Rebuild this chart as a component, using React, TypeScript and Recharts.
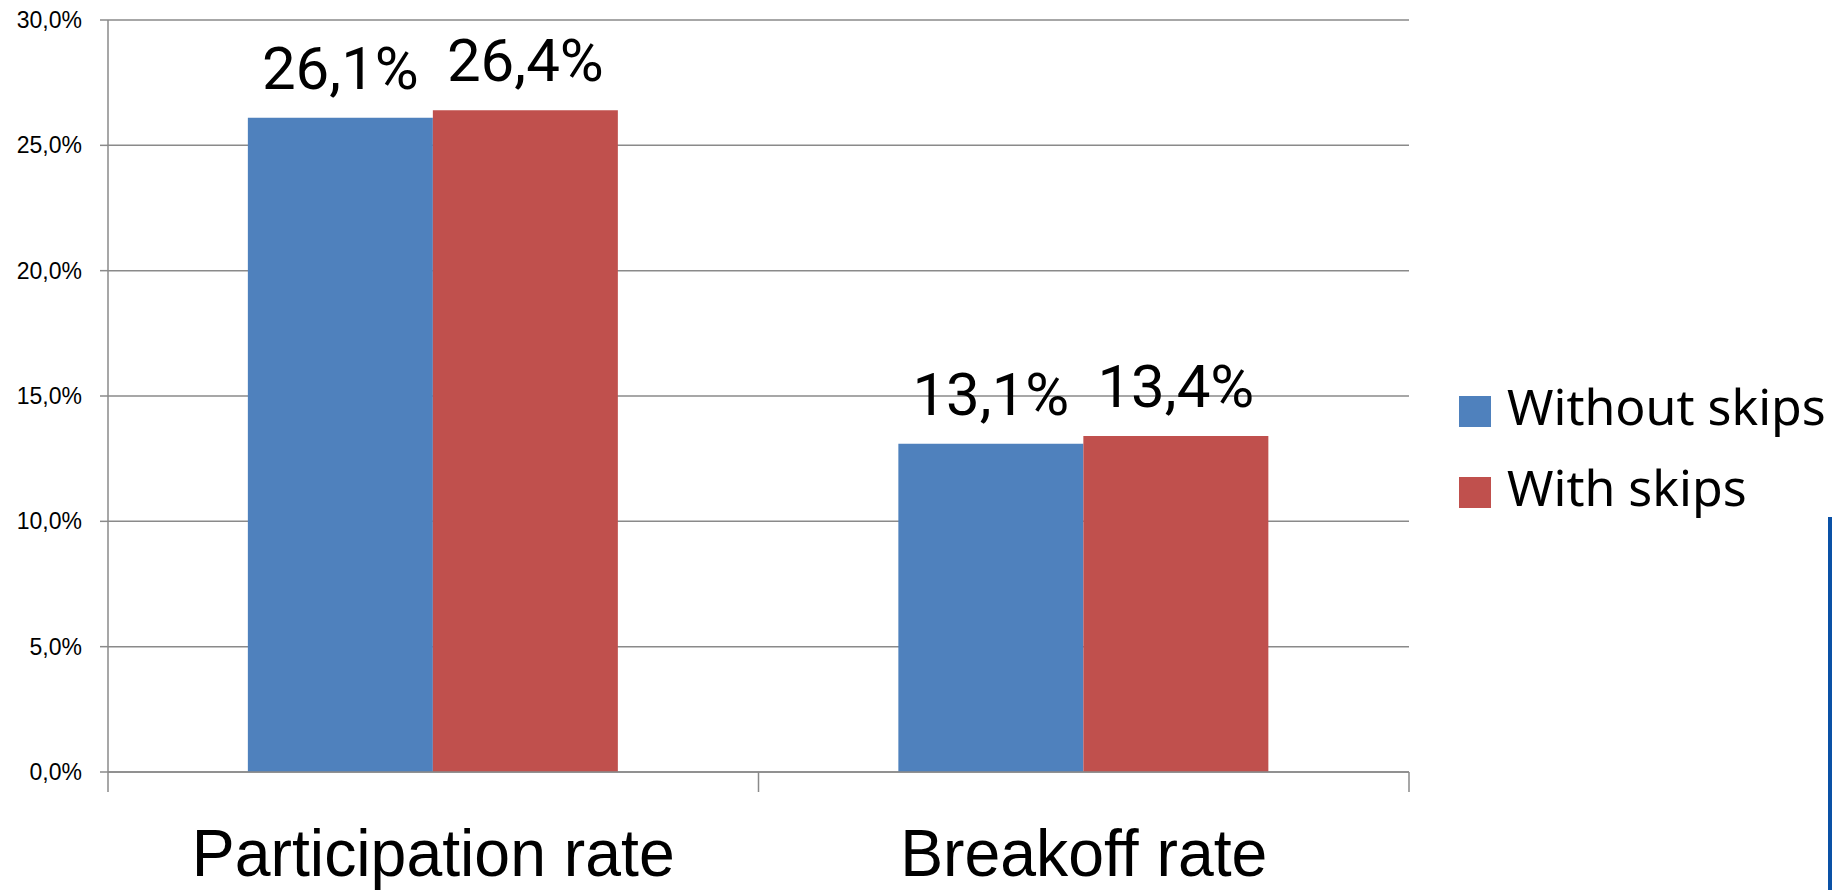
import { Bar, BarChart, CartesianGrid, LabelList, XAxis, YAxis } from "recharts"

const categories = ["Participation rate", "Breakoff rate"]
const withoutSkips = [26.1, 13.1]
const withSkips = [26.4, 13.4]
const yTicks = [0, 5, 10, 15, 20, 25, 30]
const seriesNames = ["Without skips", "With skips"]

const C = {
  blue: "#4f81bd",
  red: "#c0504d",
  grid: "#8a8a8a",
  text: "#000000",
  rule: "#0a51a6",
}

const data = categories.map((name, i) => ({
  name,
  without: withoutSkips[i],
  with: withSkips[i],
}))

const pct = (v: number) => `${Number(v).toFixed(1).replace(".", ",")}%`

// category label plus the boundary tick marks (Excel style, between categories)
function CategoryTick(props: any) {
  const { x, y, payload, index } = props
  const half = payload?.offset ?? 0
  const last = index === categories.length - 1
  return (
    <g>
      <line x1={x - half} x2={x - half} y1={y} y2={y + 20} stroke={C.grid} strokeWidth={1.5} />
      {last && <line x1={x + half} x2={x + half} y1={y} y2={y + 20} stroke={C.grid} strokeWidth={1.5} />}
      <text
        x={0}
        y={0}
        textAnchor="middle"
        fontSize={66}
        fontFamily="'Liberation Sans', Arial, sans-serif"
        fill={C.text}
        transform={`translate(${x},${y + 104}) scale(0.975,1)`}
      >
        {payload.value}
      </text>
    </g>
  )
}

function LegendBox() {
  const colors = [C.blue, C.red]
  return (
    <div style={{ position: "absolute", left: 1459, top: 366, fontFamily: "'Noto Sans', sans-serif" }}>
      {seriesNames.map((s, i) => (
        <div key={s} style={{ display: "flex", alignItems: "center", height: 81 }}>
          <span style={{ width: 32, height: 31, background: colors[i], marginRight: 16, marginTop: 10 }} />
          <span style={{ fontSize: 50, lineHeight: "81px", color: C.text, whiteSpace: "nowrap" }}>{s}</span>
        </div>
      ))}
    </div>
  )
}

export default function App() {
  return (
    <div style={{ position: "absolute", left: 0, top: 0, width: 1848, height: 890, background: "#fff", overflow: "hidden" }}>
      <BarChart
        width={1848}
        height={890}
        data={data}
        margin={{ top: 20, right: 439, bottom: 0, left: 0 }}
        barGap={0}
        barCategoryGap="21.5%"
      >
        <CartesianGrid vertical={false} stroke={C.grid} strokeWidth={1.5} />
        <XAxis
          dataKey="name"
          height={118}
          axisLine={{ stroke: C.grid, strokeWidth: 1.5 }}
          tickLine={false}
          tickSize={0}
          tickMargin={0}
          tick={<CategoryTick />}
          interval={0}
        />
        <YAxis
          width={108}
          domain={[0, 30]}
          ticks={yTicks}
          tickFormatter={pct}
          tickSize={8}
          tickMargin={18}
          axisLine={{ stroke: C.grid, strokeWidth: 1.5 }}
          tickLine={{ stroke: C.grid, strokeWidth: 1.5 }}
          tick={{ fontSize: 23, fill: C.text, fontFamily: "'Liberation Sans', Arial, sans-serif" }}
        />
        <Bar dataKey="without" name={seriesNames[0]} fill={C.blue} isAnimationActive={false}>
          <LabelList
            dataKey="without"
            position="top"
            offset={29}
            formatter={pct}
            fill={C.text}
            fontSize={60}
            fontFamily="Roboto, sans-serif"
          />
        </Bar>
        <Bar dataKey="with" name={seriesNames[1]} fill={C.red} isAnimationActive={false}>
          <LabelList
            dataKey="with"
            position="top"
            offset={29}
            formatter={pct}
            fill={C.text}
            fontSize={60}
            fontFamily="Roboto, sans-serif"
          />
        </Bar>
      </BarChart>
      <LegendBox />
      <div style={{ position: "absolute", left: 1828, top: 517, width: 4, height: 373, background: C.rule }} />
    </div>
  )
}
